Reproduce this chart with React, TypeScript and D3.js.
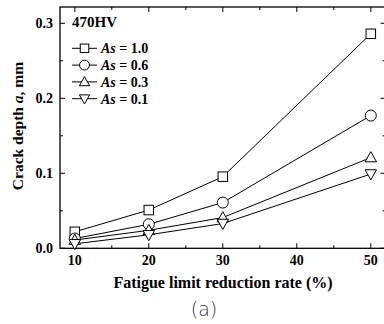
import React, { useEffect, useRef } from "react";
import * as d3 from "d3";

const rates = [10, 20, 30, 50];
const as10 = [0.022, 0.051, 0.0955, 0.286];
const as06 = [0.013, 0.032, 0.061, 0.177];
const as03 = [0.011, 0.024, 0.041, 0.121];
const as01 = [0.006, 0.018, 0.033, 0.099];
const seriesNames = ["As = 1.0", "As = 0.6", "As = 0.3", "As = 0.1"];
const seriesMarks = ["square", "circle", "up", "down"];
const xTicks = [10, 20, 30, 40, 50];
const yTicks = [0.0, 0.1, 0.2, 0.3];

const App = () => {
  const ref = useRef<SVGSVGElement>(null);

  useEffect(() => {
    const svg = d3.select(ref.current);
    svg.selectAll("*").remove();
    const margin = { top: 7, left: 60 };
    const font = "Liberation Serif";

    const x = d3.scaleLinear().domain([8, 52]).range([margin.left, margin.left + 44 * 7.4]);
    const y = d3.scaleLinear().domain([0, 0.1]).range([248.3, 173.3]);

    const g = svg.append("g");

    // frame
    g.append("rect")
      .attr("x", margin.left)
      .attr("y", margin.top)
      .attr("width", x(52) - margin.left)
      .attr("height", y(0) - margin.top)
      .attr("fill", "none")
      .attr("stroke", "#000")
      .attr("stroke-width", 1.3);

    // ticks (inward, all sides)
    d3.range(10, 52, 5).forEach((v) => {
      const len = v % 10 === 0 ? 5 : 3;
      g.append("line").attr("x1", x(v)).attr("x2", x(v)).attr("y1", y(0)).attr("y2", y(0) - len).attr("stroke", "#000");
      g.append("line").attr("x1", x(v)).attr("x2", x(v)).attr("y1", margin.top).attr("y2", margin.top + len).attr("stroke", "#000");
    });
    d3.range(0, 0.32, 0.05).forEach((v, i) => {
      const len = i % 2 === 0 ? 5 : 3;
      g.append("line").attr("x1", margin.left).attr("x2", margin.left + len).attr("y1", y(v)).attr("y2", y(v)).attr("stroke", "#000");
      g.append("line").attr("x1", x(52)).attr("x2", x(52) - len).attr("y1", y(v)).attr("y2", y(v)).attr("stroke", "#000");
    });

    // tick labels
    g.selectAll(".xl")
      .data(xTicks)
      .enter()
      .append("text")
      .attr("x", (d) => x(d))
      .attr("y", 265)
      .attr("text-anchor", "middle")
      .attr("font-family", font)
      .attr("font-weight", "bold")
      .attr("font-size", 14)
      .text((d) => d);
    g.selectAll(".yl")
      .data(yTicks)
      .enter()
      .append("text")
      .attr("x", 53)
      .attr("y", (d) => y(d) + 4.5)
      .attr("text-anchor", "end")
      .attr("font-family", font)
      .attr("font-weight", "bold")
      .attr("font-size", 14)
      .text((d) => d.toFixed(1));

    // axis titles
    g.append("text")
      .attr("x", 223)
      .attr("y", 288)
      .attr("text-anchor", "middle")
      .attr("font-family", font)
      .attr("font-weight", "bold")
      .attr("font-size", 16)
      .text("Fatigue limit reduction rate (%)");
    const yt = g
      .append("text")
      .attr("transform", "translate(23,126) rotate(-90)")
      .attr("text-anchor", "middle")
      .attr("font-family", font)
      .attr("font-weight", "bold")
      .attr("font-size", 15.5);
    yt.append("tspan").text("Crack depth ");
    yt.append("tspan").attr("font-style", "italic").text("a");
    yt.append("tspan").text(", mm");

    g.append("text")
      .attr("x", 204)
      .attr("y", 316)
      .attr("text-anchor", "middle")
      .attr("font-family", "DejaVu Sans")
      .attr("font-weight", 300)
      .attr("font-size", 19)
      .attr("fill", "#333")
      .text("(a)");

    const drawMark = (sel: any, kind: string, cx: number, cy: number, s: number) => {
      if (kind === "square") {
        sel.append("rect").attr("x", cx - s / 2).attr("y", cy - s / 2).attr("width", s).attr("height", s)
          .attr("fill", "#fff").attr("stroke", "#000").attr("stroke-width", 1);
      } else if (kind === "circle") {
        sel.append("circle").attr("cx", cx).attr("cy", cy).attr("r", s * 0.58)
          .attr("fill", "#fff").attr("stroke", "#000").attr("stroke-width", 1);
      } else {
        const h = s;
        const w = s * 1.2;
        const pts = kind === "up"
          ? [[cx, cy - h * 0.62], [cx + w / 2, cy + h * 0.45], [cx - w / 2, cy + h * 0.45]]
          : [[cx, cy + h * 0.62], [cx + w / 2, cy - h * 0.45], [cx - w / 2, cy - h * 0.45]];
        sel.append("polygon").attr("points", pts.map((p) => p.join(",")).join(" "))
          .attr("fill", "#fff").attr("stroke", "#000").attr("stroke-width", 1);
      }
    };

    const line = d3.line<number>().x((d, i) => x(rates[i])).y((d) => y(d));
    const allSeries = [as10, as06, as03, as01];

    allSeries.forEach((vals) => {
      g.append("path").attr("d", line(vals)).attr("fill", "none").attr("stroke", "#000").attr("stroke-width", 1);
    });
    allSeries.forEach((vals, si) => {
      vals.forEach((v, i) => drawMark(g, seriesMarks[si], x(rates[i]), y(v), 9.5));
    });

    // legend
    g.append("text")
      .attr("x", 72)
      .attr("y", 27)
      .attr("font-family", font)
      .attr("font-weight", "bold")
      .attr("font-size", 15)
      .text("470HV");
    seriesNames.forEach((name, i) => {
      const ly = 48.3 + i * 16.8;
      g.append("line").attr("x1", 72).attr("x2", 97).attr("y1", ly).attr("y2", ly).attr("stroke", "#000");
      drawMark(g, seriesMarks[i], 84.5, ly, 8.5);
      const t = g.append("text")
        .attr("x", 101)
        .attr("y", ly + 4.8)
        .attr("font-family", font)
        .attr("font-weight", "bold")
        .attr("font-size", 14);
      t.append("tspan").attr("font-style", "italic").text("As");
      t.append("tspan").text(name.slice(2));
    });
  }, []);

  return (
    <svg
      ref={ref}
      width={384}
      height={324}
      style={{ position: "absolute", left: 0, top: 0, background: "#fff" }}
    />
  );
};

export default App;
